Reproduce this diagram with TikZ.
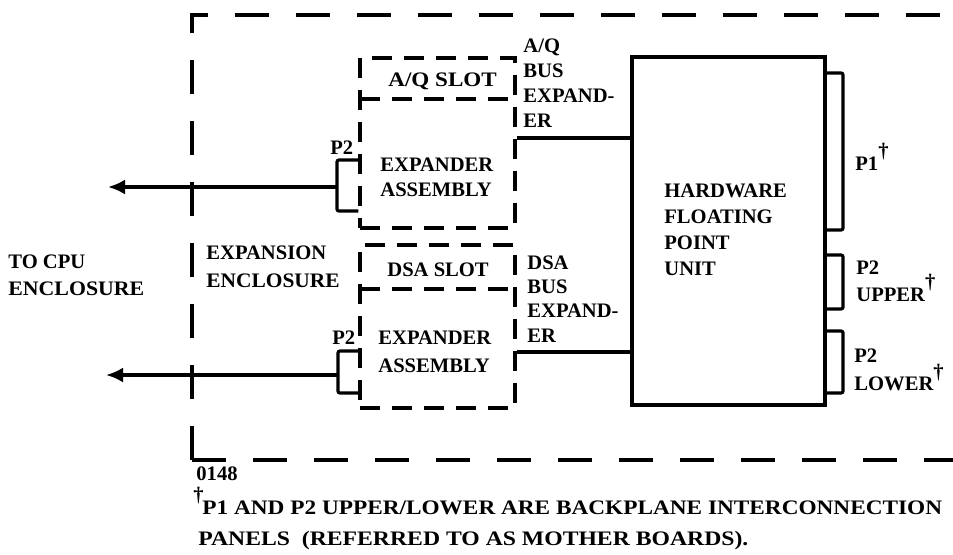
\documentclass[tikz,border=0pt]{standalone}
\usepackage{fontspec}
\setmainfont{Liberation Serif}
\usetikzlibrary{arrows.meta,fit}
\newcommand{\dagmark}{\raisebox{0.6em}{\textdagger}}
\newcommand{\wide}[2][1.13]{\scalebox{#1}[1]{#2}}
\tikzset{
  encl/.style={line width=2.2pt,dash pattern=on 17pt off 13.5pt},
  slotbox/.style={draw,line width=1.7pt,dash pattern=on 10pt off 6pt,inner sep=0pt},
  slotln/.style={line width=1.7pt,dash pattern=on 10pt off 6pt},
  unitbox/.style={draw,line width=1.6pt,inner sep=0pt},
  wire/.style={line width=1.6pt,rounded corners=1pt},
  arr/.style={line width=1.6pt,-{Latex[length=8.5pt,width=7.5pt]}},
  lbl/.style={inner sep=0pt,anchor=north west,align=left,font=\bfseries\fontsize{10.3}{12.5}\selectfont},
  lsp/.style={font=\bfseries\fontsize{10.3}{#1}\selectfont}
}

\begin{document}
\begin{tikzpicture}[x=0.5pt,y=-0.5pt]
  \useasboundingbox (0,0) rectangle (953,554);

  % expansion enclosure
  \coordinate (encsw) at (192,460);
  \coordinate (encnw) at (192,15);
  \draw[encl] (encsw) -- (encnw) -- (953,15);
  \draw[encl] (encsw) -- (953,460);

  % slots and unit
  \node[slotbox,fit={(360,58) (515,228)}] (upasm) {};
  \node[slotbox,fit={(360,245) (515,408)}] (lowasm) {};
  \draw[slotln] (360,99) -- (515,99);
  \draw[slotln] (360,289) -- (515,289);
  \node[unitbox,fit={(632,57) (825,405)}] (hfpu) {};

  % labels
  \node[lbl,lsp=13.5pt] (tocpu) at (8,254) {TO CPU\\\wide[1.06]{ENCLOSURE}};
  \node[lbl,lsp=14pt] (expencl) at (206,245) {EXPANSION\\\wide[1.04]{ENCLOSURE}};
  \node[lbl] (aqslot) at (388,72) {\wide[1.12]{A/Q SLOT}};
  \node[lbl] (upexp) at (380,157) {EXPANDER\\ASSEMBLY};
  \node[lbl] (dsaslot) at (387,262) {DSA SLOT};
  \node[lbl,lsp=14pt] (lowexp) at (378,330) {EXPANDER\\ASSEMBLY};
  \node[lbl] (aqbustxt) at (523,38) {A/Q\\BUS\\EXPAND-\\ER};
  \node[lbl,lsp=12.2pt] (dsabustxt) at (527,255) {DSA\\BUS\\EXPAND-\\ER};
  \node[lbl,lsp=13pt] (hfputxt) at (664,183) {HARDWARE\\FLOATING\\POINT\\UNIT};
  \node[lbl,anchor=base west] (p1txt) at (855,170) {P1\dagmark};
  \node[lbl,lsp=13.5pt] (p2uptxt) at (856,260) {P2\\UPPER\dagmark};
  \node[lbl,lsp=11pt] (p2lotxt) at (854,348) {P2\\LOWER\dagmark};
  \node[lbl] (p2a) at (330,140) {P2};
  \node[lbl] (p2b) at (332,330) {P2};
  \node[lbl] (figno) at (196,466) {0148};
  \node[lbl] (fndag) at (193,487) {\textdagger};
  \node[lbl,lsp=15.5pt] (fntxt) at (202,500)
    {\wide{P1 AND P2 UPPER/LOWER ARE BACKPLANE INTERCONNECTION}\\
     \hspace*{-2pt}\wide[1.15]{PANELS\ \ (REFERRED TO AS MOTHER BOARDS).}};

  % bus expanders
  \coordinate (aqbus) at (0,138);
  \coordinate (dsabus) at (0,352);
  \draw[wire] (upasm.east |- aqbus) -- (hfpu.west |- aqbus);
  \draw[wire] (lowasm.east |- dsabus) -- (hfpu.west |- dsabus);

  % backplane connectors
  \coordinate (p1t) at (843,73);
  \coordinate (p1b) at (843,230);
  \coordinate (p2ut) at (843,255);
  \coordinate (p2ub) at (843,309);
  \coordinate (p2lt) at (843,331);
  \coordinate (p2lb) at (843,393);
  \draw[wire] (hfpu.east |- p1t) -- (p1t) -- (p1b) -- (hfpu.east |- p1b);
  \draw[wire] (hfpu.east |- p2ut) -- (p2ut) -- (p2ub) -- (hfpu.east |- p2ub);
  \draw[wire] (hfpu.east |- p2lt) -- (p2lt) -- (p2lb) -- (hfpu.east |- p2lb);

  % P2 to cpu
  \coordinate (up2t) at (337,160);
  \coordinate (up2b) at (337,211);
  \coordinate (up2m) at (337,187);
  \coordinate (cpuup) at (108,187);
  \coordinate (lo2t) at (338,351);
  \coordinate (lo2b) at (338,393);
  \coordinate (lo2m) at (338,375);
  \coordinate (cpulo) at (106,375);
  \draw[wire] (upasm.west |- up2t) -- (up2t) -- (up2b) -- (upasm.west |- up2b);
  \draw[wire] (lowasm.west |- lo2t) -- (lo2t) -- (lo2b) -- (lowasm.west |- lo2b);
  \draw[arr] (up2m) -- (cpuup);
  \draw[arr] (lo2m) -- (cpulo);
\end{tikzpicture}
\end{document}
